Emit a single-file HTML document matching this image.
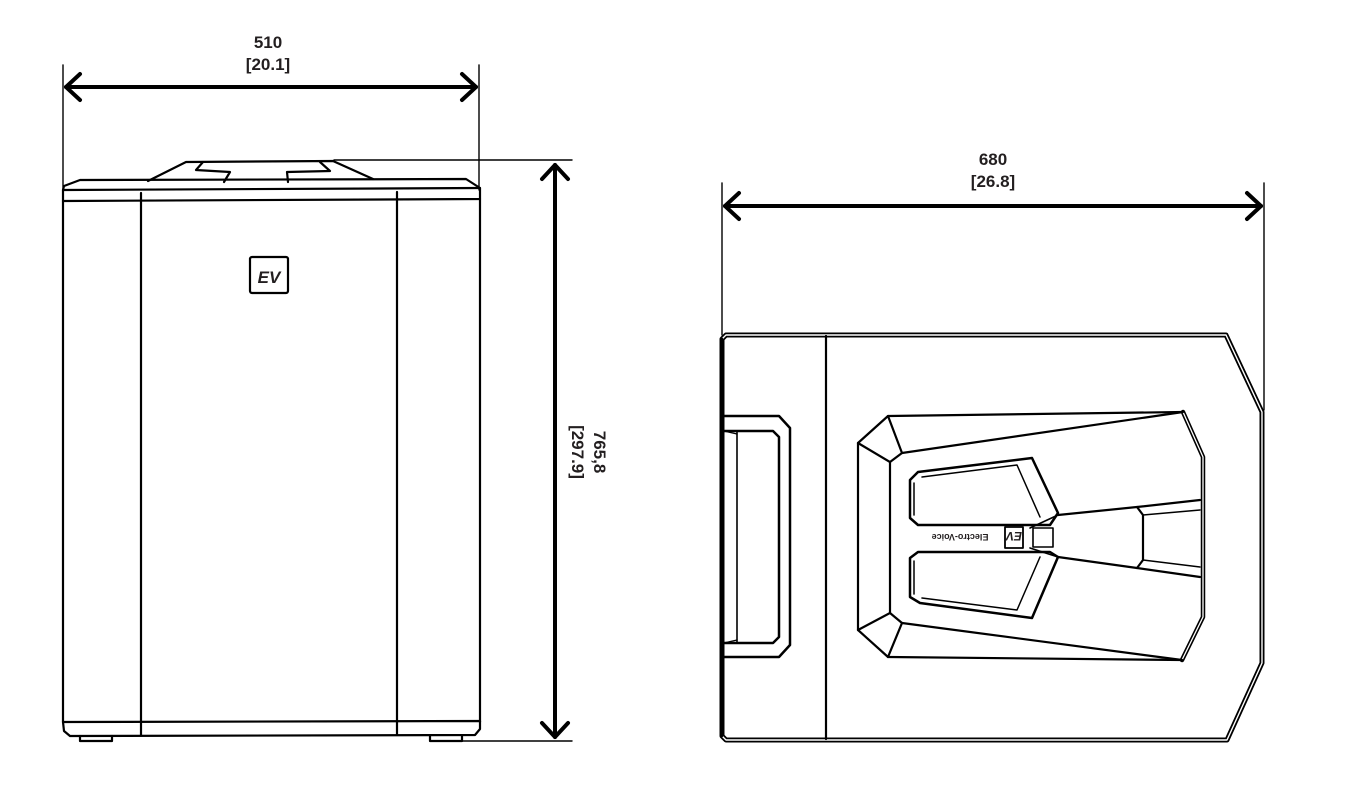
<!DOCTYPE html>
<html><head><meta charset="utf-8"><style>
html,body{margin:0;padding:0;background:#fff;}
svg{display:block;}
text{font-family:"Liberation Sans",sans-serif;font-weight:bold;font-size:17px;fill:#231f20;}
</style></head><body>
<svg width="1354" height="802" viewBox="0 0 1354 802" xmlns="http://www.w3.org/2000/svg">
<g fill="none" stroke="#000" stroke-width="2.2" stroke-linejoin="round" stroke-linecap="round">
<line x1="63" y1="65" x2="63" y2="190" stroke-width="1.4"/>
<line x1="479" y1="65" x2="479" y2="190" stroke-width="1.4"/>
<line x1="66" y1="87" x2="476" y2="87" stroke-width="4"/>
<polyline points="80,74 66,87 80,100" stroke-width="4"/>
<polyline points="462,74 476,87 462,100" stroke-width="4"/>
<path d="M148,181 L186,162 L333,161 L373,179"/>
<path d="M203,162 L196,170 L230,172 L224,182"/>
<path d="M320,162 L330,171 L287,172 L288,182"/>
<path d="M63,190 L64,186 L80,180 L466,179 L480,188 L480,199 L63,201 Z"/>
<line x1="63" y1="190" x2="480" y2="188"/>
<line x1="63" y1="201" x2="63" y2="722"/>
<line x1="480" y1="199" x2="480" y2="722"/>
<line x1="141" y1="193" x2="141" y2="735"/>
<line x1="397" y1="192" x2="397" y2="735"/>
<path d="M63,722 L480,721 L480,729 L475,735 L70,736 L64,731 Z"/>
<path d="M80,736 L80,741 L112,741 L112,736"/>
<path d="M430,736 L430,741 L462,741 L462,736"/>
<rect x="250" y="257" width="38" height="36" rx="2"/>
<line x1="334" y1="160" x2="572" y2="160" stroke-width="1.4"/>
<line x1="440" y1="741" x2="572" y2="741" stroke-width="1.4"/>
<line x1="555" y1="165" x2="555" y2="737" stroke-width="4"/>
<polyline points="542,179 555,165 568,179" stroke-width="4"/>
<polyline points="542,723 555,737 568,723" stroke-width="4"/>

<line x1="722" y1="183" x2="722" y2="335" stroke-width="1.4"/>
<line x1="1264" y1="183" x2="1264" y2="410" stroke-width="1.4"/>
<line x1="725" y1="206" x2="1261" y2="206" stroke-width="4"/>
<polyline points="739,193 725,206 739,219" stroke-width="4"/>
<polyline points="1247,193 1261,206 1247,219" stroke-width="4"/>
<path d="M722,339 L726,335 L1226,335 L1262,412 L1262,663 L1227,740 L726,740 L722,736 Z" stroke-width="5"/>
<path d="M722,339 L726,335 L1226,335 L1262,412 L1262,663 L1227,740 L726,740 L722,736 Z" stroke="#fff" stroke-width="1.4"/>
<path d="M722,339 L722,736" stroke-width="2.4"/>
<line x1="826" y1="336" x2="826" y2="739"/>
<path d="M722,416 L779,416 L790,428 L790,645 L779,657 L722,657" stroke-width="2.5"/>
<path d="M724,431 L773,431 L779,437 L779,637 L773,643 L724,643" stroke-width="2.5"/>
<line x1="737" y1="432" x2="737" y2="642" stroke-width="1.6"/>
<line x1="724" y1="431" x2="737" y2="434" stroke-width="1.4"/>
<line x1="724" y1="643" x2="737" y2="640" stroke-width="1.4"/>
<path d="M888,416 L1183,412 L1203,457 L1203,617 L1182,660 L888,657 L858,630 L858,443 Z"/>
<path d="M1183,412 L1203,457 L1203,617 L1182,660" stroke-width="4.5"/>
<path d="M1183,412 L1203,457 L1203,617 L1182,660" stroke="#fff" stroke-width="1.3"/>
<path d="M888,416 L902,453 L890,462 L858,443"/>
<path d="M888,657 L902,623 L890,613 L858,630"/>
<line x1="902" y1="453" x2="1183" y2="412"/>
<line x1="902" y1="623" x2="1182" y2="660"/>
<line x1="890" y1="462" x2="890" y2="613"/>
<path d="M918,472 L1032,458 L1058,513 L1050,525 L918,525 L910,518 L910,480 Z" stroke-width="2.5"/>
<path d="M922,477 L1017,465 L1040,517 M914,483 L914,515" stroke-width="1.5"/>
<path d="M918,552 L1050,552 L1058,557 L1032,618 L920,603 L910,597 L910,558 Z" stroke-width="2.5"/>
<path d="M922,598 L1017,610 L1040,557 M914,561 L914,594" stroke-width="1.5"/>
<path d="M1058,515 L1137,507 L1200,500"/>
<path d="M1058,557 L1137,568 L1200,577"/>
<path d="M1137,507 L1143,515 L1143,560 L1137,568"/>
<path d="M1143,515 L1200,510 M1143,560 L1200,567" stroke-width="1.6"/>
<path d="M1030,528 L1058,515 M1030,548 L1058,557" stroke-width="1.6"/>
<rect x="1033" y="528" width="20" height="19" stroke-width="1.6"/>
<rect x="1005" y="527" width="18" height="21" stroke-width="1.8"/>
</g>
<text x="268" y="48" text-anchor="middle">510</text>
<text x="268" y="70" text-anchor="middle">[20.1]</text>
<text x="993" y="165" text-anchor="middle">680</text>
<text x="993" y="187" text-anchor="middle">[26.8]</text>
<g transform="translate(588,452) rotate(90)">
<text x="0" y="-6" text-anchor="middle">765,8</text>
<text x="0" y="16" text-anchor="middle">[297.9]</text>
</g>
<text x="269" y="283" text-anchor="middle" style="font-size:17px;font-style:italic">EV</text>
<text x="1014" y="544" text-anchor="middle" transform="rotate(180 1014 538)" style="font-size:12px;font-style:italic">EV</text>
<text x="960" y="538" text-anchor="middle" transform="rotate(180 960 536)" style="font-size:9px">Electro-Voice</text>
</svg>
</body></html>
